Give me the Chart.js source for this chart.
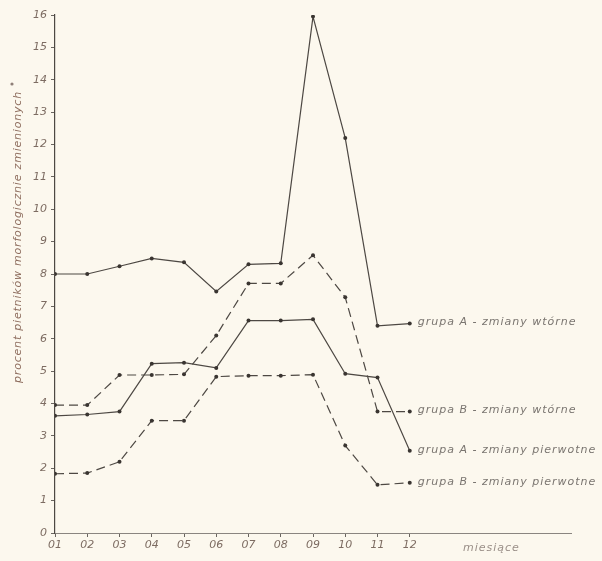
<!DOCTYPE html>
<html>
<head>
<meta charset="utf-8">
<script src="https://cdn.jsdelivr.net/npm/chart.js@4.4.0/dist/chart.umd.min.js"></script>
<style>
  html, body { margin: 0; padding: 0; background: #fcf8ee; }
  #wrap { width: 602px; height: 561px; position: relative; }
</style>
</head>
<body>
<div id="wrap"><canvas id="c"></canvas></div>
<script>
const months = [1, 2, 3, 4, 5, 6, 7, 8, 9, 10, 11, 12];
const monthLabels = ['01', '02', '03', '04', '05', '06', '07', '08', '09', '10', '11', '12'];
const yTicks = [0, 1, 2, 3, 4, 5, 6, 7, 8, 9, 10, 11, 12, 13, 14, 15, 16];

const seriesNames = [
  'grupa A - zmiany wtórne',
  'grupa B - zmiany wtórne',
  'grupa A - zmiany pierwotne',
  'grupa B - zmiany pierwotne'
];
const aWtorne    = [8.0, 8.0, 8.24, 8.48, 8.36, 7.46, 8.3, 8.33, 15.95, 12.2, 6.4, 6.47];
const bWtorne    = [3.95, 3.95, 4.88, 4.88, 4.9, 6.1, 7.71, 7.71, 8.58, 7.28, 3.75, 3.75];
const aPierwotne = [3.62, 3.66, 3.75, 5.23, 5.26, 5.1, 6.56, 6.56, 6.6, 4.92, 4.8, 2.54];
const bPierwotne = [1.83, 1.85, 2.2, 3.47, 3.47, 4.83, 4.86, 4.86, 4.89, 2.7, 1.49, 1.55];

const yTitle = 'procent pietników morfologicznie zmienionych';
const xTitle = 'miesiące';

const toXY = arr => arr.map((v, i) => ({ x: months[i], y: v }));
const lineColor = '#4d4843';
const textColor = '#7d6c62';

function ds(label, data, dashed) {
  return {
    label, data: toXY(data),
    borderColor: lineColor, backgroundColor: '#3a3531',
    borderWidth: 1.2, borderDash: dashed ? [9, 5] : [],
    pointRadius: 2, pointBorderWidth: 0, pointBackgroundColor: '#3a3531',
    tension: 0, fill: false
  };
}

const annot = {
  id: 'annot',
  beforeDraw(chart) {
    const c = chart.ctx;
    c.save();
    c.fillStyle = '#fcf8ee';
    c.fillRect(0, 0, chart.width, chart.height);
    c.restore();
  },
  afterDraw(chart) {
    const c = chart.ctx;
    const xs = chart.scales.x, ys = chart.scales.y;
    c.save();
    c.font = 'italic 11px "DejaVu Sans"';
    c.letterSpacing = '1px';
    c.fillStyle = '#7a7570';
    c.textBaseline = 'middle';
    c.textAlign = 'left';
    chart.data.datasets.forEach((d) => {
      const last = d.data[d.data.length - 1];
      const px = xs.getPixelForValue(last.x) + 8;
      const py = ys.getPixelForValue(last.y) - 1;
      c.fillText(d.label, px, py);
    });
    c.fillStyle = '#9a8f88';
    c.fillText(xTitle, 463, 548);
    c.translate(18, 237);
    c.rotate(-Math.PI / 2);
    c.textAlign = 'center';
    c.fillStyle = '#8f6f60';
    c.letterSpacing = '0.8px';
    c.fillText(yTitle, 0, 0);
    c.restore();
    c.save();
    c.fillStyle = '#8f7f78';
    c.beginPath();
    c.arc(12, 84, 1.6, 0, Math.PI * 2);
    c.fill();
    c.restore();
  }
};

new Chart(document.getElementById('c'), {
  type: 'line',
  data: {
    datasets: [
      ds(seriesNames[0], aWtorne, false),
      ds(seriesNames[1], bWtorne, true),
      ds(seriesNames[2], aPierwotne, false),
      ds(seriesNames[3], bPierwotne, true)
    ]
  },
  options: {
    responsive: true,
    maintainAspectRatio: false,
    animation: false,
    layout: { padding: { top: 15, right: 31, left: 0, bottom: 0 } },
    plugins: { legend: { display: false }, tooltip: { enabled: false } },
    scales: {
      x: {
        type: 'linear', min: 1, max: 17,
        afterBuildTicks: s => { s.ticks = months.map(v => ({ value: v })); },
        afterFit: s => { s.height = 28; },
        ticks: {
          autoSkip: false, maxRotation: 0, padding: 2,
          color: textColor, font: { family: 'DejaVu Sans', size: 11, style: 'italic' },
          callback: (v) => monthLabels[months.indexOf(v)] ?? ''
        },
        grid: { display: true, drawOnChartArea: false, drawTicks: true, tickLength: 4, color: '#6a6560' },
        border: { display: true, color: '#8a8580', width: 1 }
      },
      y: {
        type: 'linear', min: 0, max: 16,
        afterBuildTicks: s => { s.ticks = yTicks.map(v => ({ value: v })); },
        afterFit: s => { s.width = 55; },
        ticks: {
          padding: 4, color: textColor,
          font: { family: 'DejaVu Sans', size: 11, style: 'italic' }
        },
        grid: { display: true, drawOnChartArea: false, drawTicks: true, tickLength: 4, color: '#6a6560' },
        border: { display: true, color: '#4d4843', width: 1.2 }
      }
    }
  },
  plugins: [annot]
});
</script>
</body>
</html>
